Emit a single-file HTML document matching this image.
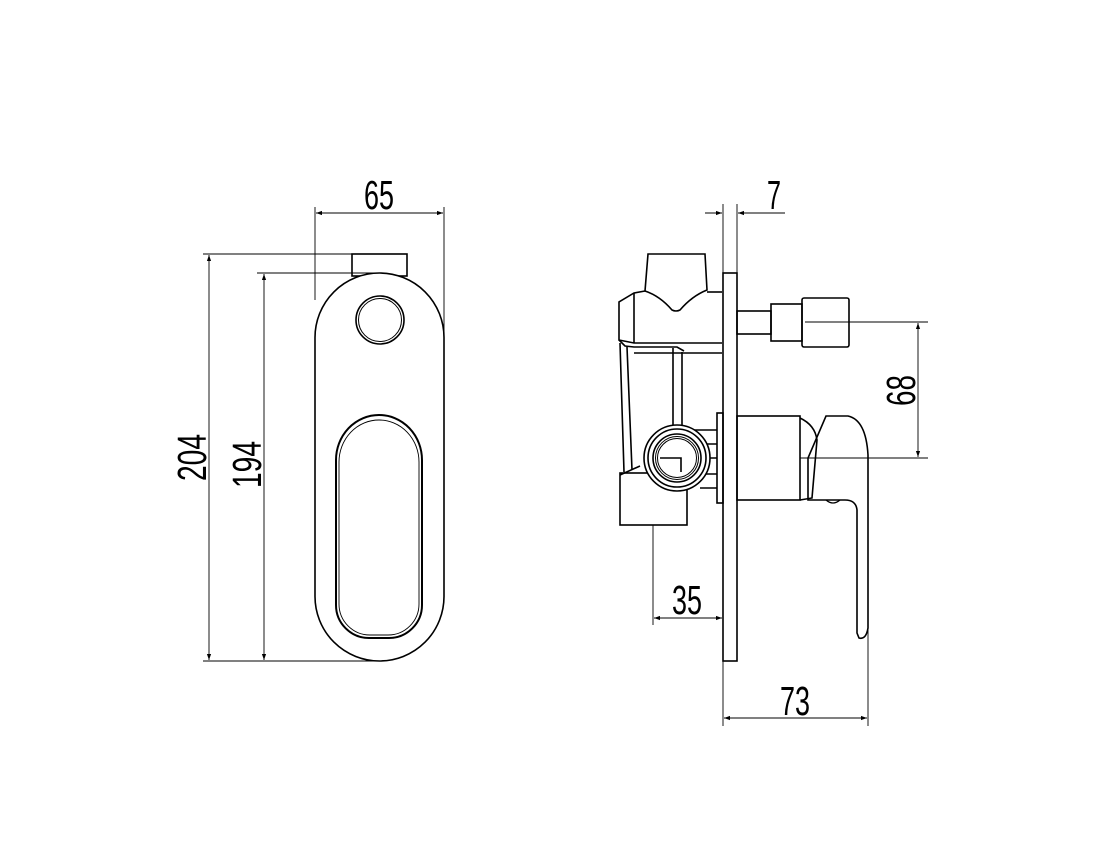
<!DOCTYPE html>
<html><head><meta charset="utf-8"><style>html,body{margin:0;padding:0;background:#fff}svg{display:block}</style></head>
<body>
<svg width="1116" height="866" viewBox="0 0 1116 866" xmlns="http://www.w3.org/2000/svg">
<defs>
<marker id="a" viewBox="0 0 10 10" refX="10" refY="5" markerWidth="14" markerHeight="6" markerUnits="userSpaceOnUse" orient="auto-start-reverse"><path d="M0,1.5 L10,5 L0,8.5z" fill="#000"/></marker>
</defs>
<g fill="none" stroke="#000" stroke-width="1.6">
<!-- front view -->
<rect x="352" y="254" width="55" height="22" fill="#fff"/>
<rect x="315" y="273" width="129" height="388" rx="64.5" ry="64.5" fill="#fff"/>
<circle cx="380" cy="320" r="24"/><circle cx="380" cy="320" r="21.5" stroke-width="1"/>
<path d="M336,460 A43,45 0 0 1 422,460 L422,605 A33,33 0 0 1 389,638 L369,638 A33,33 0 0 1 336,605 Z" stroke-width="2"/>
<path d="M339,462 A40,42 0 0 1 419,462 L419,604 A31,31 0 0 1 388,635 L370,635 A31,31 0 0 1 339,604 Z" stroke-width="0.9"/>
<!-- side view -->
<rect x="723" y="273" width="14" height="388" fill="#fff"/>
<rect x="717" y="413" width="6" height="90"/>
<rect x="737" y="416" width="63" height="84"/>
<path d="M800,418 Q815,425 817,440 L812,498 L800,500"/>
<path d="M826,416 L848,416 Q866,420 868,455 L868,628 Q866,640 859,638 L857,633 L857,510 Q856,500 845,500 L808,500 L808,458 Z"/>
<path d="M826,500 Q833,506 840,500" stroke-width="1.2"/>
<!-- upper valve -->
<path d="M648,254 L705,254 L707,290 Q692,296 680,310 Q676,312 672,310 Q660,296 645,291 Z"/>
<path d="M645,291 L634,293 L619,302 L619,340 L634,343 L722,343"/>
<line x1="634" y1="293" x2="634" y2="343"/>
<line x1="707" y1="292" x2="722" y2="292"/>
<path d="M619,340 L625,346 L634,347 L677,347 L684,351"/>
<line x1="634" y1="353" x2="722" y2="353"/>
<rect x="737" y="311" width="34" height="23"/>
<rect x="771" y="304" width="31" height="37"/>
<rect x="802" y="298" width="47" height="49" rx="2"/>
<path d="M620,343 L624,472 M627,347 L632,470"/>
<path d="M673,348 L673,428 M682,352 L682,428"/>
<path d="M682,430 L717,430 M700,444 L717,444 M700,458 L717,458 M700,474 L717,474 M700,488 L717,488"/>
<rect x="620" y="473" width="67" height="52" fill="#fff"/>
<path d="M620,475 L640,466"/>
<circle cx="677" cy="458" r="33" fill="#fff"/>
<circle cx="677" cy="458" r="29"/>
<circle cx="677" cy="458" r="24"/>
<circle cx="677" cy="458" r="21.5" stroke-width="1"/>
<circle cx="677" cy="458" r="19.5" stroke-width="1"/>
<path d="M660,458 L681,458 L681,472"/>
</g>
<!-- dimension lines -->
<g stroke="#000" stroke-width="0.9" fill="none">
<line x1="315" y1="207" x2="315" y2="300"/><line x1="444" y1="207" x2="444" y2="340"/>
<line x1="316" y1="213" x2="443" y2="213" marker-start="url(#a)" marker-end="url(#a)"/>
<line x1="203" y1="254" x2="352" y2="254"/><line x1="257" y1="273" x2="380" y2="273"/>
<line x1="203" y1="661" x2="380" y2="661"/>
<line x1="209" y1="255" x2="209" y2="660" marker-start="url(#a)" marker-end="url(#a)"/>
<line x1="264" y1="274" x2="264" y2="660" marker-start="url(#a)" marker-end="url(#a)"/>
<line x1="723" y1="204" x2="723" y2="273"/><line x1="737" y1="204" x2="737" y2="273"/>
<line x1="705" y1="213" x2="722" y2="213" marker-end="url(#a)"/>
<line x1="785" y1="213" x2="738" y2="213" marker-end="url(#a)"/>
<line x1="805" y1="322" x2="928" y2="322"/><line x1="800" y1="458" x2="928" y2="458"/>
<line x1="918" y1="323" x2="918" y2="457" marker-start="url(#a)" marker-end="url(#a)"/>
<line x1="653" y1="525" x2="653" y2="625"/>
<line x1="654" y1="618" x2="722" y2="618" marker-start="url(#a)" marker-end="url(#a)"/>
<line x1="723" y1="661" x2="723" y2="726"/><line x1="868" y1="630" x2="868" y2="726"/>
<line x1="724" y1="718" x2="867" y2="718" marker-start="url(#a)" marker-end="url(#a)"/>
</g>
<g font-family="'Liberation Sans', sans-serif" font-size="41" fill="#000">
<text x="364" y="209" textLength="30" lengthAdjust="spacingAndGlyphs">65</text>
<text x="767" y="209" textLength="14" lengthAdjust="spacingAndGlyphs">7</text>
<text x="672" y="614" textLength="30" lengthAdjust="spacingAndGlyphs">35</text>
<text x="780" y="715" textLength="30" lengthAdjust="spacingAndGlyphs">73</text>
<text transform="translate(206,481) rotate(-90)" textLength="47" lengthAdjust="spacingAndGlyphs">204</text>
<text transform="translate(261,488) rotate(-90)" textLength="47" lengthAdjust="spacingAndGlyphs">194</text>
<text transform="translate(915,406) rotate(-90)" textLength="31" lengthAdjust="spacingAndGlyphs">68</text>
</g>
</svg>
</body></html>
